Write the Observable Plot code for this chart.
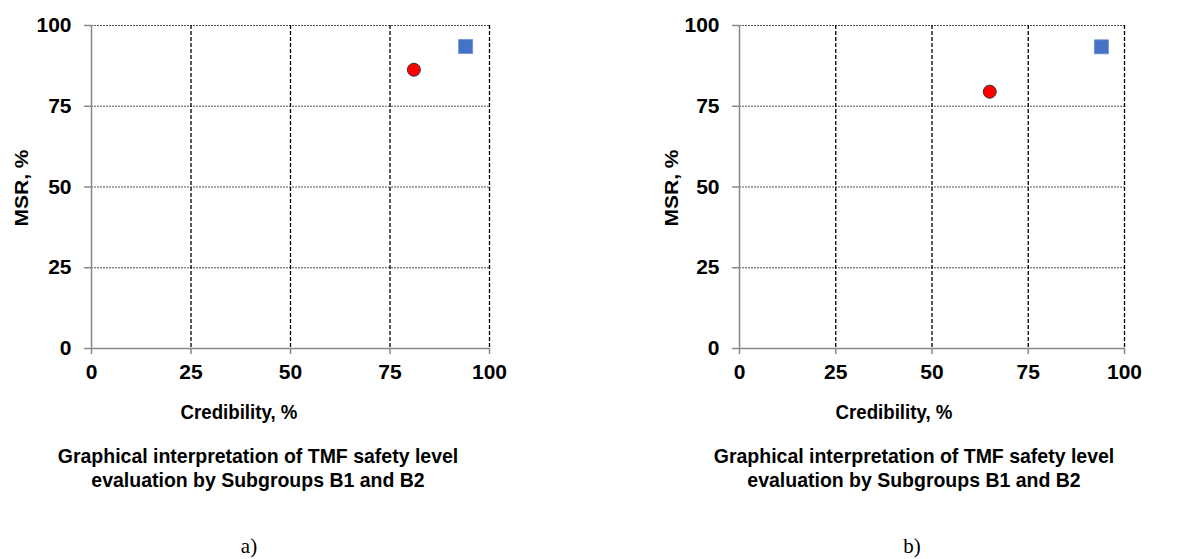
<!DOCTYPE html>
<html><head><meta charset="utf-8">
<script src="https://cdn.jsdelivr.net/npm/d3@7"></script>
<script src="https://cdn.jsdelivr.net/npm/@observablehq/plot@0.6"></script>
<style>
body{margin:0;background:#fff;}
#wrap{position:relative;width:1180px;height:559px;overflow:hidden;font-family:Arial,"Liberation Sans",sans-serif;background:#fff;}
.lab{position:absolute;font-weight:bold;color:#000;white-space:nowrap;line-height:1;}
.panel{font-family:"Liberation Serif","Times New Roman",serif;font-weight:normal;}
.svgbox{position:absolute;top:0;}
</style></head><body><div id="wrap"></div>
<script>
const ticks = [0, 25, 50, 75, 100];
const series = ["Subgroup B1", "Subgroup B2"];
const credA = [81, 94];
const msrA = [86.3, 93.5];
const credB = [65, 94];
const msrB = [79.5, 93.4];
const fills = ["#ff0000", "#4472c4"];
const xLabel = "Credibility, %";
const yLabel = "MSR, %";
const captionLines = ["Graphical interpretation of TMF safety level", "evaluation by Subgroups B1 and B2"];
const panelLabels = ["a)", "b)"];

function chart(cred, msr, width, ml, mr) {
  const data = series.map((s, i) => ({s, x: cred[i], y: msr[i]}));
  return Plot.plot({
    width, height: 390, marginLeft: ml, marginRight: mr, marginTop: 25, marginBottom: 42,
    x: {domain: [0, 100]}, y: {domain: [0, 100]},
    style: {fontFamily: "Arial, 'Liberation Sans', sans-serif", fontSize: "21px", fontWeight: "bold", color: "#000", background: "transparent", overflow: "visible"},
    marks: [
      Plot.ruleY(ticks.slice(1), {stroke: "#555", strokeWidth: 1, strokeDasharray: "2,1"}),
      Plot.ruleX(ticks.slice(1), {stroke: "#000", strokeWidth: 1.3, strokeDasharray: "4,2"}),
      Plot.axisX({ticks, tickSize: 6, tickPadding: 10, stroke: "#888", strokeWidth: 1.5, label: null}),
      Plot.axisY({ticks, tickSize: 7, tickPadding: 13, stroke: "#888", strokeWidth: 1.5, label: null}),
      Plot.ruleX([0], {stroke: "#888", strokeWidth: 1.5}),
      Plot.ruleY([0], {stroke: "#888", strokeWidth: 1.5}),
      Plot.dot(data.filter(d => d.s === series[0]), {x: "x", y: "y", r: 6.5, fill: fills[0], stroke: "#333", strokeWidth: 1}),
      Plot.dot(data.filter(d => d.s === series[1]), {x: "x", y: "y", symbol: "square", r: 7.9, fill: fills[1], stroke: "#6a8fd6", strokeWidth: 0.8})
    ]
  });
}

const wrap = document.getElementById("wrap");
function addBox(el, left) {
  const d = document.createElement("div");
  d.className = "svgbox"; d.style.left = left + "px";
  d.appendChild(el); wrap.appendChild(d);
}
function addLab(text, cx, cy, cls, size, tf) {
  const d = document.createElement("div");
  d.className = "lab " + (cls || "");
  d.textContent = text;
  d.style.left = cx + "px"; d.style.top = cy + "px";
  d.style.fontSize = size + "px";
  d.style.transform = "translate(-50%,-50%) " + (tf || "");
  wrap.appendChild(d);
}

addBox(chart(credA, msrA, 520, 91, 31), 0);
addBox(chart(credB, msrB, 540, 99, 56), 640);

const panels = [
  {yl: [21, 188], xl: [239, 412], cap: 258, pl: [249, 546], label: panelLabels[0]},
  {yl: [671, 188], xl: [894, 412], cap: 914, pl: [912, 546], label: panelLabels[1]}
];
for (const p of panels) {
  addLab(yLabel, p.yl[0], p.yl[1], "", 21, "rotate(-90deg) scaleY(0.9)");
  addLab(xLabel, p.xl[0], p.xl[1], "", 20.5, "scaleX(0.91)");
  addLab(captionLines[0], p.cap, 456, "", 20.5, "scaleX(0.95)");
  addLab(captionLines[1], p.cap, 480, "", 20.5, "scaleX(0.95)");
  addLab(p.label, p.pl[0], p.pl[1], "panel", 21);
}
</script></body></html>
